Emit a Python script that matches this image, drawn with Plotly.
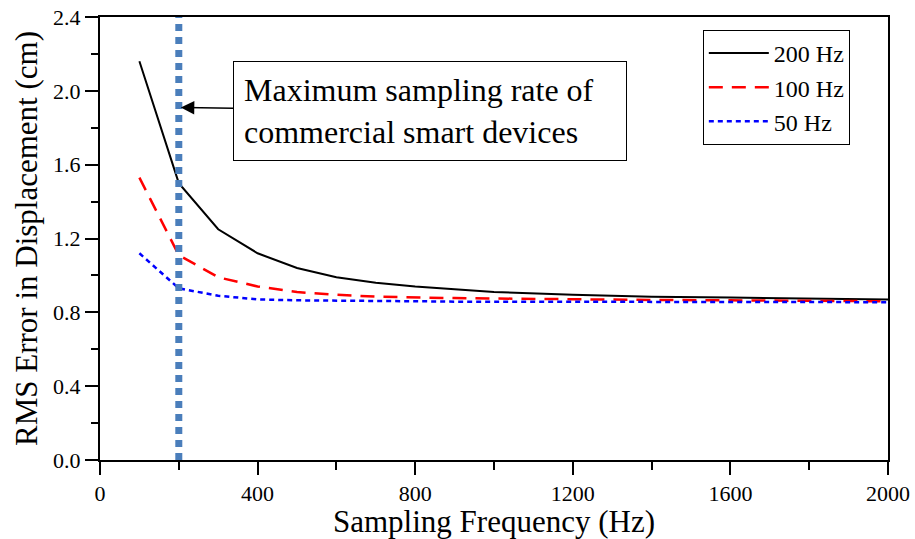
import plotly.graph_objects as go

freq = [100, 200, 300, 400, 500, 600, 700, 800, 900, 1000, 1200, 1400, 1600, 1800, 2000]
err_200 = [2.16, 1.50, 1.25, 1.12, 1.04, 0.99, 0.96, 0.94, 0.925, 0.91, 0.895, 0.885, 0.88, 0.875, 0.87]
err_100 = [1.53, 1.11, 0.99, 0.94, 0.91, 0.895, 0.885, 0.88, 0.877, 0.875, 0.87, 0.867, 0.865, 0.862, 0.86]
err_50 = [1.12, 0.93, 0.89, 0.87, 0.865, 0.862, 0.86, 0.86, 0.858, 0.858, 0.857, 0.856, 0.856, 0.855, 0.855]
max_device_rate = 200

font = "Liberation Serif, Times New Roman, serif"

fig = go.Figure()
fig.add_trace(go.Scatter(x=freq, y=err_200, mode="lines", name="200 Hz",
                         line=dict(color="black", width=2)))
fig.add_trace(go.Scatter(x=freq, y=err_100, mode="lines", name="100 Hz",
                         line=dict(color="red", width=2.5, dash="14px,9px")))
fig.add_trace(go.Scatter(x=freq, y=err_50, mode="lines", name="50 Hz",
                         line=dict(color="blue", width=2.5, dash="5px,4px")))

fig.add_shape(type="line", x0=max_device_rate, x1=max_device_rate, y0=0, y1=1,
              xref="x", yref="paper",
              line=dict(color="#4a7ebb", width=7, dash="7px,6px"))

fig.add_annotation(x=max_device_rate, y=1.91, xref="x", yref="y",
                   text="Maximum sampling rate of<br>commercial smart devices",
                   showarrow=True, arrowhead=2, arrowsize=1.8, arrowwidth=1.5,
                   arrowcolor="black", ax=251, ay=4, standoff=2,
                   font=dict(family=font, size=32, color="black"),
                   align="left", width=372, bordercolor="black", borderwidth=1,
                   borderpad=10, bgcolor="white")

axis_common = dict(showline=True, linecolor="black", linewidth=2, mirror=True,
                   ticks="outside", tickcolor="black", tickwidth=2,
                   showgrid=False, zeroline=False, automargin=False,
                   tickfont=dict(family=font, size=22, color="black"))

fig.update_xaxes(range=[0, 2000], dtick=400, tick0=0, ticklen=13,
                 minor=dict(dtick=200, tick0=0, ticks="outside", ticklen=8, tickcolor="black", tickwidth=2),
                 title=dict(text="Sampling Frequency (Hz)", font=dict(family=font, size=31, color="black"), standoff=6),
                 **axis_common)
fig.update_yaxes(range=[0, 2.4], dtick=0.4, tick0=0, ticklen=13, tickformat=".1f",
                 minor=dict(dtick=0.2, tick0=0, ticks="outside", ticklen=7, tickcolor="black", tickwidth=2),
                 title=dict(text="RMS Error in Displacement (cm)", font=dict(family=font, size=31, color="black"), standoff=6),
                 **axis_common)

fig.update_layout(
    width=915, height=539,
    margin=dict(l=100, r=27, t=17, b=79),
    plot_bgcolor="white", paper_bgcolor="white",
    legend=dict(x=0.765, y=0.971, xanchor="left", yanchor="top",
                bordercolor="black", borderwidth=1, bgcolor="white",
                font=dict(family=font, size=24, color="black"),
                itemwidth=60, entrywidth=125, entrywidthmode="pixels",
                tracegroupgap=0),
    showlegend=True,
)

fig.write_html("out.html")
